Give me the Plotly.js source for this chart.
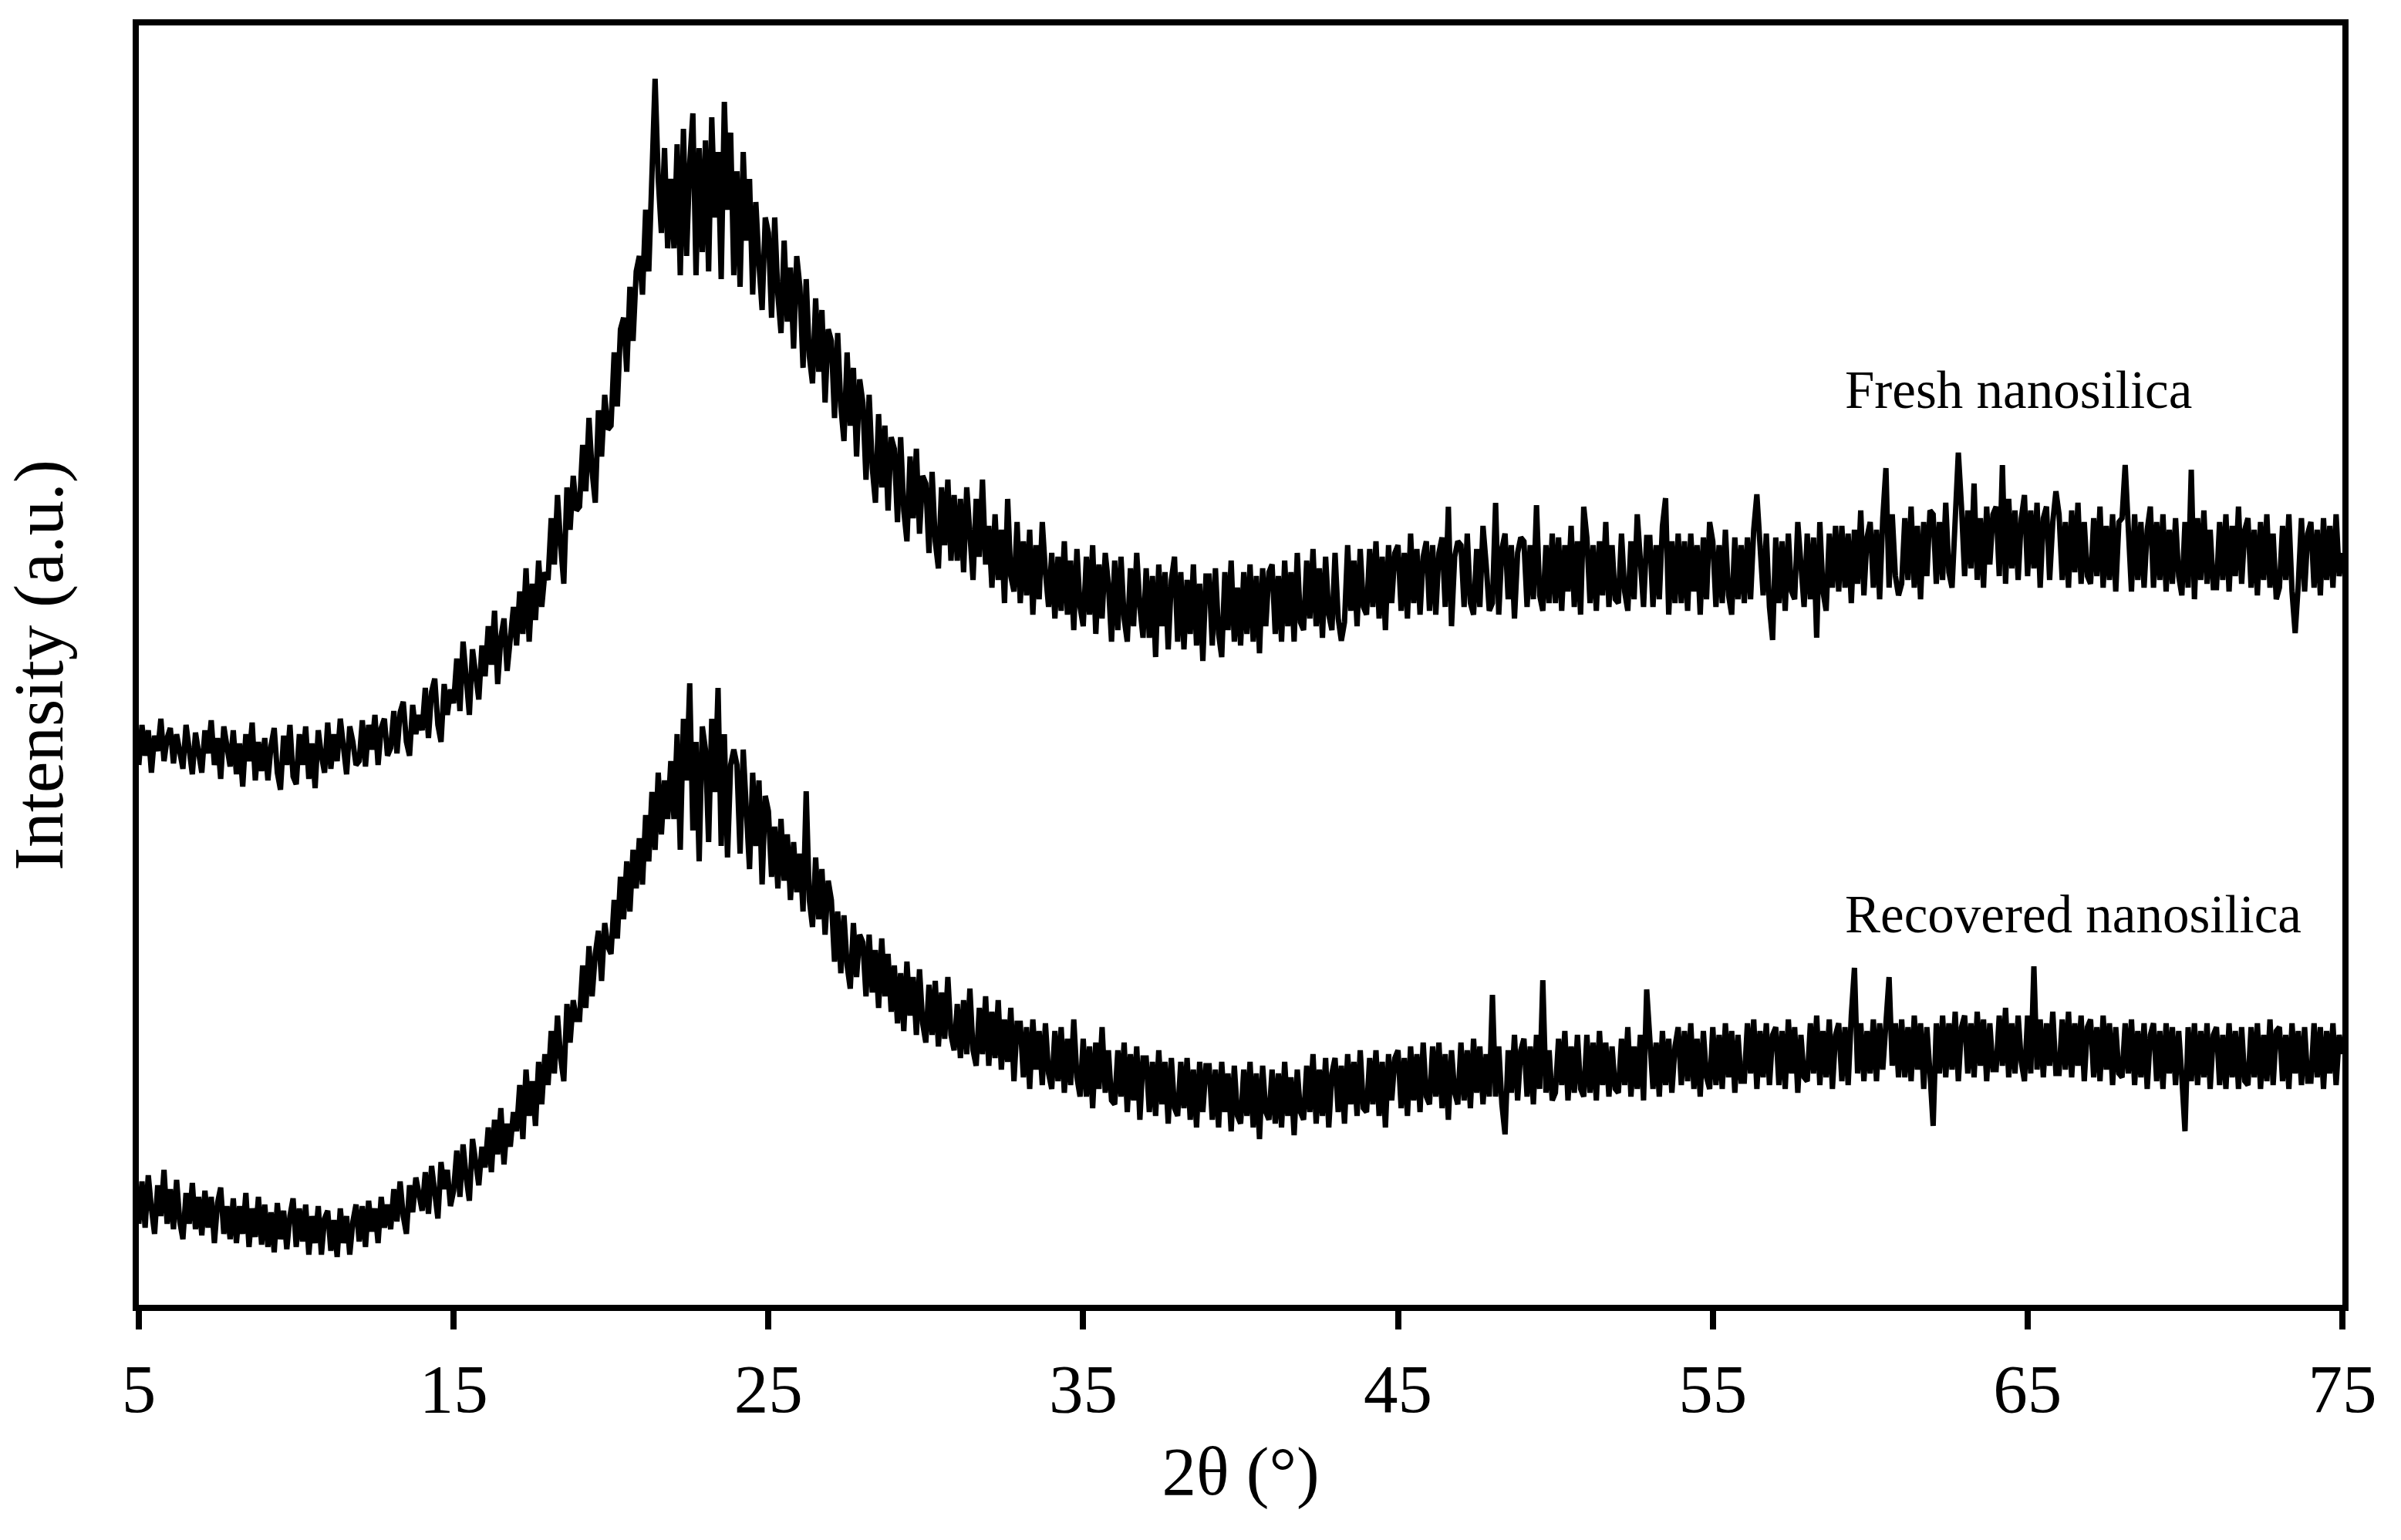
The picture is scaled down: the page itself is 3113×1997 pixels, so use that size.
<!DOCTYPE html>
<html>
<head>
<meta charset="utf-8">
<script src="https://cdn.plot.ly/plotly-3.0.1.min.js"></script>
<style>
html,body{margin:0;padding:0;background:#fff;}
#chart{width:3113px;height:1997px;}
</style>
</head>
<body>
<div id="chart"></div>
<script>
// 2-theta grid: 5.0 to 75.0 in 0.1 degree steps (one row = one degree)
const twoThetaStart = 5;
const twoThetaStep = 0.1;

// Intensity (a.u.), fresh nanosilica
const freshNanosilica = [
700,752,712,745,690,738,718,760,705,735,
748,702,740,712,695,752,720,688,742,710,
690,745,715,758,700,735,682,750,725,698,
745,688,728,672,740,705,755,680,730,692,
735,680,725,748,690,668,738,700,752,685,
675,740,700,750,682,728,670,745,712,690,
755,695,740,705,760,715,688,750,730,700,
705,758,698,752,720,765,700,748,760,712,
722,770,715,768,782,730,712,778,740,765,
745,800,735,795,812,752,730,805,765,798,
780,838,770,860,800,765,850,815,785,855,
815,880,830,900,805,865,890,822,872,905,
855,925,870,955,860,935,888,965,905,950,
940,1020,960,1050,985,935,1060,1005,1075,1030,
1035,1115,1055,1150,1080,1040,1160,1100,1180,1135,
1140,1235,1165,1265,1280,1210,1320,1250,1340,1360,
1310,1420,1340,1480,1590,1460,1390,1500,1370,1460,
1370,1505,1335,1525,1360,1480,1545,1335,1500,1365,
1510,1340,1540,1410,1495,1330,1560,1420,1520,1335,
1470,1320,1495,1380,1460,1310,1430,1350,1290,1410,
1390,1280,1410,1310,1260,1380,1275,1345,1240,1360,
1320,1215,1330,1230,1195,1305,1210,1290,1170,1265,
1250,1150,1260,1165,1120,1235,1140,1215,1100,1200,
1170,1070,1180,1085,1040,1155,1060,1140,1030,1125,
1110,1015,1125,1030,990,1100,1020,1110,1000,1075,
1065,975,1080,990,955,1060,985,1070,965,1050,
965,1045,950,1060,1000,940,1045,970,1070,960,
1010,930,1025,940,1005,910,1045,945,925,1015,
910,990,920,1005,895,985,915,1015,950,905,
975,890,970,900,990,895,965,875,980,905,
880,970,895,985,870,960,890,975,935,860,
965,875,970,890,860,955,880,975,905,865,
955,865,945,840,960,880,950,850,940,970,
860,950,850,940,870,960,855,935,835,945,
945,855,955,870,840,950,875,965,860,930,
855,950,870,960,860,945,845,955,880,950,
960,870,945,860,965,880,950,860,975,885,
875,965,890,980,880,955,865,970,895,875,
975,890,861,885,985,900,965,880,980,905,
895,980,905,990,890,970,875,985,910,975,
985,900,975,890,1000,910,980,895,970,990,
900,985,895,975,995,905,1035,880,970,990,
985,905,1000,910,895,980,905,1010,960,900,
910,1040,895,980,1000,915,985,890,975,995,
990,905,985,915,1037,920,900,985,910,1000,
910,995,900,985,925,1010,905,990,895,1035,
995,910,985,900,990,920,1015,905,985,915,
910,1000,925,900,990,915,1025,960,905,995,
995,905,985,915,1010,1046,895,990,910,1000,
910,990,900,1000,925,985,895,995,915,1015,
990,905,985,910,1005,920,895,995,915,985,
910,995,915,1005,1051,985,920,1000,905,862,
995,910,990,900,1000,925,915,1015,960,905,
1000,915,995,865,1015,925,900,1000,930,1010,
925,1010,930,1000,910,1005,935,1030,920,995,
1015,930,1005,915,1020,1085,930,1025,945,920,
935,1020,940,1035,930,1010,915,1015,945,1030,
1025,935,1015,940,1040,950,930,1020,1105,1035,
945,1030,955,1065,940,1020,930,1035,960,1025,
1035,945,1089,935,1045,955,1030,940,1020,1050,
945,1030,955,1040,930,1020,1035,940,1015,1055,
1025,940,1015,930,1030,950,1040,935,1015,945,
935,1020,945,1035,930,1010,940,1025,925,1015,
1020,1089,1010,925,1025,940,1015,930,1005,1035,
930,1015,940,1025,925,1005,935,1020,945,920,
1015,930,1083,915,1020,940,1030,935,1005,930,
930,1015,940,1025,925,1010,945,1035,935,1005,
1020,930,1005,920,1015,940,1025,930,1000,915,
930,1010,940,1025,925,871,935,1020,925,1000,
1015,930,1005,920,1020,940,1010,930,1025,945,
975
];

// Intensity (a.u.), recovered nanosilica
const recoveredNanosilica = [
105,160,100,168,125,92,155,115,175,105,
150,98,162,108,85,145,105,158,98,140,
90,148,100,140,80,132,152,92,128,85,
138,80,128,92,145,75,125,88,140,78,
130,75,120,68,132,85,122,72,115,138,
75,125,82,130,65,115,80,128,65,112,
122,70,110,62,125,80,115,65,108,130,
82,128,75,135,95,125,80,140,100,130,
98,150,108,160,115,92,155,120,165,140,
122,172,118,180,140,112,185,150,175,128,
148,200,140,208,165,135,215,180,155,205,
178,230,172,240,195,255,182,235,205,250,
225,285,215,305,245,290,232,315,260,325,
285,355,300,375,320,290,390,340,395,370,
370,440,385,465,400,455,485,420,495,465,
455,525,475,555,500,575,510,590,540,605,
545,635,575,665,590,690,610,680,630,705,
630,740,590,760,680,806,615,730,575,750,
720,600,760,665,800,595,740,580,700,720,
700,585,720,640,565,690,595,680,545,660,
640,555,620,540,630,550,610,525,600,535,
585,510,666,525,490,580,500,565,480,550,
525,445,510,430,505,440,410,495,425,480,
470,400,480,405,460,385,475,400,455,380,
440,365,430,355,445,375,425,350,435,365,
340,415,350,420,335,405,345,425,350,330,
390,320,395,325,410,330,310,385,325,400,
310,380,320,395,305,370,315,385,290,365,
365,295,360,280,370,305,355,285,365,300,
280,355,290,360,275,345,285,370,295,270,
345,270,335,255,340,280,360,275,330,265,
260,330,270,340,250,325,265,335,240,320,
320,250,315,245,330,260,315,235,320,255,
245,315,255,320,240,305,230,315,250,310,
310,240,305,230,315,250,300,225,310,245,
235,305,245,315,230,300,215,310,250,240,
305,235,300,230,315,245,295,220,305,250,
240,310,250,325,235,305,245,320,230,300,
320,250,310,235,325,260,315,245,330,255,
250,320,260,330,245,315,230,325,265,320,
330,255,320,245,335,265,325,250,340,270,
260,335,270,340,255,325,240,330,275,260,
340,265,330,255,345,275,335,260,325,270,
402,270,335,260,221,330,275,350,265,330,
345,270,335,260,350,280,421,275,330,265,
275,345,285,355,265,335,275,350,280,270,
350,275,340,265,355,285,340,270,335,280,
275,345,285,360,270,335,280,350,265,409,
350,280,340,270,355,285,345,275,335,360,
285,355,290,365,280,345,270,355,295,280,
360,285,350,280,365,295,355,275,350,290,
290,365,300,370,280,355,295,365,285,350,
360,285,355,280,370,300,360,275,350,295,
290,365,300,375,285,355,295,370,280,350,
365,290,360,285,375,437,300,365,290,355,
300,370,290,365,305,380,425,310,365,295,
370,295,360,290,375,305,365,280,360,300,
232,365,300,375,295,365,305,380,290,360,
375,300,365,295,380,310,370,290,365,305,
305,375,310,385,295,365,300,375,315,290,
375,300,439,305,370,295,365,310,380,300,
300,370,305,380,295,365,310,375,290,360,
370,295,360,290,375,305,365,285,360,300,
295,365,300,370,285,355,295,365,280,350,
365,290,355,280,365,300,360,285,355,295,
225,360,290,365,285,355,295,365,280,350,
360,285,350,280,365,295,355,280,360,290,
285,360,295,365,280,350,290,370,285,355,
360,290,350,280,365,300,355,285,360,290,
290,365,295,360,280,355,300,365,285,350,
325
];

const xTickValues = [5, 15, 25, 35, 45, 55, 65, 75];
const xTickLabels = ['5', '15', '25', '35', '45', '55', '65', '75'];
const seriesLabels = ['Fresh nanosilica', 'Recovered nanosilica'];

const twoTheta = freshNanosilica.map((_, i) => Math.round((twoThetaStart + i * twoThetaStep) * 10) / 10);

const serif = 'Liberation Serif, Times New Roman, serif';

const traces = [
  {x: twoTheta, y: freshNanosilica, type: 'scatter', mode: 'lines', name: seriesLabels[0],
   line: {color: '#000', width: 7}},
  {x: twoTheta, y: recoveredNanosilica, type: 'scatter', mode: 'lines', name: seriesLabels[1],
   line: {color: '#000', width: 7}}
];

const layout = {
  width: 3113, height: 1997,
  margin: {l: 180, r: 76, t: 33, b: 305, pad: 0},
  paper_bgcolor: '#fff', plot_bgcolor: '#fff',
  showlegend: false,
  font: {family: serif, color: '#000', size: 89},
  xaxis: {
    range: [5, 75], tickmode: 'array', tickvals: xTickValues, ticktext: xTickLabels,
    ticks: 'outside', ticklen: 24, tickwidth: 8, tickcolor: '#000',
    showline: true, linewidth: 8, linecolor: '#000', mirror: true,
    showgrid: false, zeroline: false,
    tickfont: {family: serif, size: 89, color: '#000'},
    title: {text: '2θ (°)', font: {family: serif, size: 89, color: '#000'}, standoff: 30}
  },
  yaxis: {
    range: [0, 1659], showticklabels: false, ticks: '',
    showline: true, linewidth: 8, linecolor: '#000', mirror: true,
    showgrid: false, zeroline: false,
    title: {text: 'Intensity (a.u.)', font: {family: serif, size: 91, color: '#000'}, standoff: 64}
  },
  annotations: [
    {text: seriesLabels[0], xref: 'x', yref: 'y', x: 59.15, y: 1186, xanchor: 'left', yanchor: 'middle',
     showarrow: false, font: {family: serif, size: 69, color: '#000'}},
    {text: seriesLabels[1], xref: 'x', yref: 'y', x: 59.15, y: 506, xanchor: 'left', yanchor: 'middle',
     showarrow: false, font: {family: serif, size: 69, color: '#000'}}
  ]
};

Plotly.newPlot('chart', traces, layout, {displayModeBar: false, staticPlot: true});
</script>
</body>
</html>
